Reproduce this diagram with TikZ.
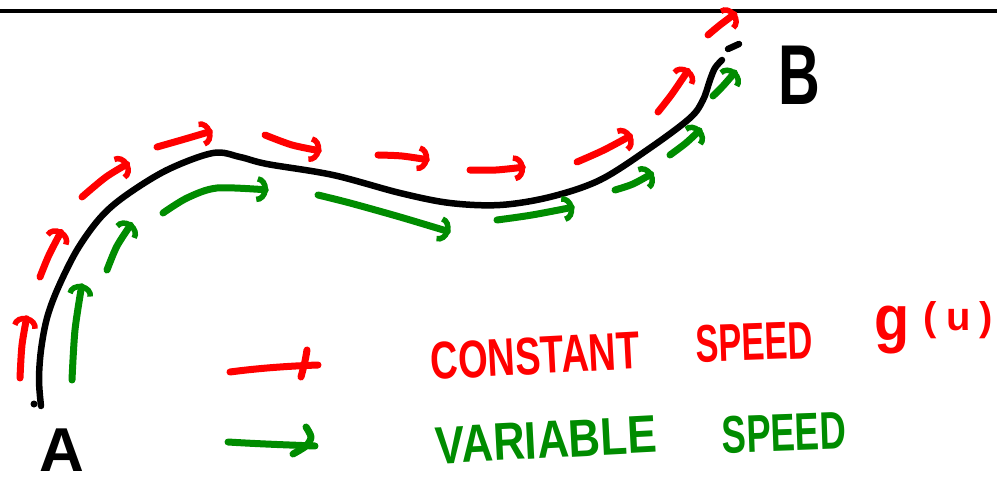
\documentclass[tikz,border=0pt]{standalone}
\usepackage{fontspec}
\setmainfont{Liberation Sans}
\usetikzlibrary{arrows.meta}
\definecolor{pred}{RGB}{255,0,0}
\definecolor{pgreen}{RGB}{0,140,0}
\begin{document}
\begin{tikzpicture}[x=1pt,y=-1pt,line cap=round,line join=round,
  pen/.style={line width=7pt},
  hookarr/.style={pen,-{Arc Barb[length=11pt,width=26pt,line width=5.5pt]}},
  redarr/.style={hookarr,draw=pred},
  greenarr/.style={hookarr,draw=pgreen},
  lab/.style={inner sep=0pt,outer sep=0pt},
]
\useasboundingbox (0,0) rectangle (997,484);
% top rule
\draw[line width=3.5pt,black] (0,11) -- (997,11);

% main path from A to B
\coordinate (start) at (41,406);
\coordinate (finish) at (722,60);
\draw[line width=6.5pt,black] plot[smooth,tension=0.55] coordinates {
  (start) (39,380) (41,350) (47,318) (58,288) (77,250) (100,218) (125,196)
  (167,170) (213,153) (240,157) (267,164) (333,175) (400,193) (450,203)
  (500,205) (550,197) (600,180) (650,148) (690,118) (703,100) (710,80)
  (715,68) (finish)};
\fill (34,404) circle (3.5pt);
\draw[line width=6.5pt] (728,49) -- (739,44);

% red: constant speed arrows (outside)
\draw[redarr] plot[smooth] coordinates {(20,378) (22,345) (27,316)};
\draw[redarr] plot[smooth] coordinates {(40,277) (49,255) (62,230)};
\draw[redarr] plot[smooth] coordinates {(82,197) (106,177) (129,163)};
\draw[redarr] plot[smooth] coordinates {(157,147) (185,139) (212,131)};
\draw[redarr] plot[smooth] coordinates {(265,135) (292,145) (321,151)};
\draw[redarr] plot[smooth] coordinates {(378,155) (402,156) (429,160)};
\draw[redarr] plot[smooth] coordinates {(470,170) (496,170) (525,167)};
\draw[redarr] plot[smooth] coordinates {(577,162) (604,150) (632,135)};
\draw[redarr] plot[smooth] coordinates {(658,112) (672,94) (689,69)};
\draw[redarr] plot[smooth] coordinates {(708,35) (720,25) (736,13)};

% green: variable speed arrows (inside)
\draw[greenarr] plot[smooth] coordinates {(72,380) (75,330) (82,284)};
\draw[greenarr] plot[smooth] coordinates {(107,270) (117,246) (132,223)};
\draw[greenarr] plot[smooth] coordinates {(163,213) (187,198) (217,188) (268,190)};
\draw[greenarr] plot[smooth] coordinates {(318,195) (350,203) (400,217) (450,232)};
\draw[greenarr] plot[smooth] coordinates {(497,220) (532,215) (574,207)};
\draw[greenarr] plot[smooth] coordinates {(615,190) (633,184) (653,173)};
\draw[greenarr] plot[smooth] coordinates {(670,155) (686,143) (701,129)};
\draw[greenarr] plot[smooth] coordinates {(713,96) (723,86) (736,71)};

% end labels
\node[lab,font=\fontsize{62}{62}\selectfont\bfseries] (A) at (62,450) {A};
\node[lab,font=\fontsize{85}{85}\selectfont\bfseries] (B) at (799,75) {\scalebox{0.68}[1]{B}};

% legend
\draw[pen,pred] (230,372) .. controls (260,368) and (290,366) .. (318,365);
\draw[pen,pred] (307,350) .. controls (305,362) .. (301,377);
\draw[pen,pgreen] (228,442) .. controls (260,444) and (290,445) .. (315,446);
\draw[pen,pgreen] plot[smooth] coordinates {(306,427) (311,437) (306,446) (293,454)};

\node[lab,text=pred,rotate=3,font=\fontsize{53}{53}\selectfont\bfseries] (c1) at (535,356) {\scalebox{0.72}[1]{CONSTANT}};
\node[lab,text=pred,rotate=2,font=\fontsize{53}{53}\selectfont\bfseries] (c2) at (754,342) {\scalebox{0.65}[1]{SPEED}};
\node[lab,text=pred,font=\fontsize{64}{64}\selectfont\bfseries] (c3) at (892,330) {\scalebox{0.9}[1]{g}};
\node[lab,text=pred,font=\fontsize{40}{40}\selectfont\bfseries] (c4) at (958,320) {(\hspace{10pt}u\hspace{8pt})};
\node[lab,text=pgreen,rotate=3,font=\fontsize{53}{53}\selectfont\bfseries] (v1) at (546,440) {\scalebox{0.83}[1]{VARIABLE}};
\node[lab,text=pgreen,rotate=2,font=\fontsize{53}{53}\selectfont\bfseries] (v2) at (784,433) {\scalebox{0.69}[1]{SPEED}};
\end{tikzpicture}
\end{document}
